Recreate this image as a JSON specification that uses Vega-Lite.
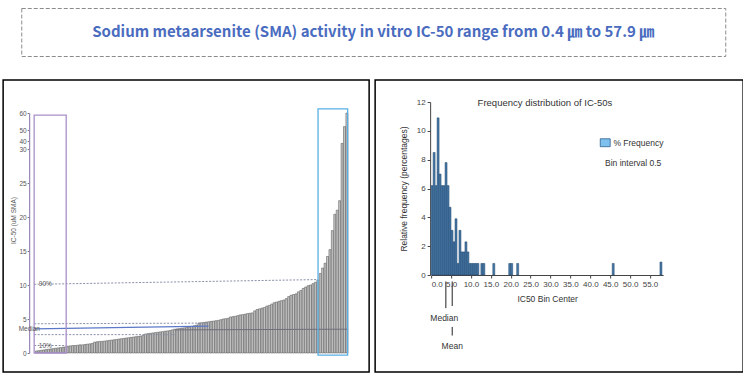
{
  "$schema": "https://vega.github.io/schema/vega-lite/v6.json",
  "background": "white",
  "padding": {"left": 2, "top": 7, "right": 0, "bottom": 0},
  "spacing": 22,
  "center": true,
  "config": {"font": "Liberation Sans", "view": {"stroke": null},
    "style": {
      "lefty": {"labelFontSize": 6.5, "labelColor": "#555555", "labelPadding": 1, "labelOverlap": false, "tickSize": 2, "tickColor": "#777777", "domainColor": "#9a86b8", "domainWidth": 1.2, "titleFontSize": 6.5, "titleFontWeight": "normal", "titleColor": "#555555", "grid": false},
      "rightax": {"labelFontSize": 8, "labelColor": "#444444", "labelPadding": 2, "labelOverlap": false, "tickSize": 3, "tickColor": "#444444", "domainColor": "#444444", "titleFontSize": 8.5, "titleFontWeight": "normal", "titleColor": "#333333", "grid": false}
    }
  },
  "datasets": {
    "bars": [
      {"i":1,"v":0.3},{"i":2,"v":0.35},{"i":3,"v":0.4},{"i":4,"v":0.45},{"i":5,"v":0.5},{"i":6,"v":0.55},{"i":7,"v":0.6},{"i":8,"v":0.65},{"i":9,"v":0.7},{"i":10,"v":0.75},
      {"i":11,"v":0.8},{"i":12,"v":0.85},{"i":13,"v":0.9},{"i":14,"v":1.0},{"i":15,"v":1.05},{"i":16,"v":1.1},{"i":17,"v":1.1},{"i":18,"v":1.15},{"i":19,"v":1.2},{"i":20,"v":1.2},
      {"i":21,"v":1.25},{"i":22,"v":1.3},{"i":23,"v":1.35},{"i":24,"v":1.4},{"i":25,"v":1.6},{"i":26,"v":1.65},{"i":27,"v":1.7},{"i":28,"v":1.7},{"i":29,"v":1.75},{"i":30,"v":1.8},
      {"i":31,"v":1.85},{"i":32,"v":1.9},{"i":33,"v":1.95},{"i":34,"v":2.0},{"i":35,"v":2.05},{"i":36,"v":2.1},{"i":37,"v":2.15},{"i":38,"v":2.2},{"i":39,"v":2.25},{"i":40,"v":2.3},
      {"i":41,"v":2.35},{"i":42,"v":2.4},{"i":43,"v":2.45},{"i":44,"v":2.5},{"i":45,"v":2.6},{"i":46,"v":2.8},{"i":47,"v":2.85},{"i":48,"v":2.9},{"i":49,"v":2.95},{"i":50,"v":3.0},
      {"i":51,"v":3.05},{"i":52,"v":3.1},{"i":53,"v":3.15},{"i":54,"v":3.2},{"i":55,"v":3.25},{"i":56,"v":3.3},{"i":57,"v":3.4},{"i":58,"v":3.5},{"i":59,"v":3.55},{"i":60,"v":3.6},
      {"i":61,"v":3.65},{"i":62,"v":3.7},{"i":63,"v":3.75},{"i":64,"v":3.8},{"i":65,"v":3.9},{"i":66,"v":4.0},{"i":67,"v":4.1},{"i":68,"v":4.4},{"i":69,"v":4.45},{"i":70,"v":4.5},
      {"i":71,"v":4.55},{"i":72,"v":4.6},{"i":73,"v":4.65},{"i":74,"v":4.7},{"i":75,"v":4.75},{"i":76,"v":4.8},{"i":77,"v":4.9},{"i":78,"v":5.0},{"i":79,"v":5.05},{"i":80,"v":5.1},
      {"i":81,"v":5.3},{"i":82,"v":5.35},{"i":83,"v":5.4},{"i":84,"v":5.5},{"i":85,"v":5.6},{"i":86,"v":5.65},{"i":87,"v":5.7},{"i":88,"v":5.8},{"i":89,"v":5.85},{"i":90,"v":5.9},
      {"i":91,"v":6.2},{"i":92,"v":6.4},{"i":93,"v":6.5},{"i":94,"v":6.6},{"i":95,"v":6.7},{"i":96,"v":6.9},{"i":97,"v":7.0},{"i":98,"v":7.2},{"i":99,"v":7.4},{"i":100,"v":7.5},
      {"i":101,"v":7.6},{"i":102,"v":7.7},{"i":103,"v":7.8},{"i":104,"v":8.0},{"i":105,"v":8.3},{"i":106,"v":8.5},{"i":107,"v":8.6},{"i":108,"v":8.7},{"i":109,"v":9.0},{"i":110,"v":9.2},
      {"i":111,"v":9.5},{"i":112,"v":9.7},{"i":113,"v":9.9},{"i":114,"v":10.0},{"i":115,"v":10.2},{"i":116,"v":10.4},{"i":117,"v":10.7},{"i":118,"v":11.7},{"i":119,"v":12.5},{"i":120,"v":13.2},
      {"i":121,"v":14.2},{"i":122,"v":15.2},{"i":123,"v":18.0},{"i":124,"v":20.4},{"i":125,"v":21.0},{"i":126,"v":22.4},{"i":127,"v":37.0},{"i":128,"v":52.0},{"i":129,"v":60.0}
    ],
    "dotlines": [
      {"a":0.1,"b":117.2,"y1":10.1,"y2":10.8},
      {"a":0.1,"b":72,"y1":4.3,"y2":4.4},
      {"a":0.1,"b":58,"y1":2.7,"y2":2.7},
      {"a":0.1,"b":13.3,"y1":1.1,"y2":1.1}
    ],
    "bluelines": [
      {"a":0.1,"b":72,"y1":3.55,"y2":3.95}
    ],
    "greylines": [
      {"a":58,"b":129.5,"y1":3.4,"y2":3.5}
    ],
    "boxes": [
      {"a":0.1,"b":13.3,"lo":0,"hi":58.8,"c":"p"},
      {"a":117.1,"b":129.3,"lo":-0.3,"hi":62.4,"c":"b"}
    ],
    "leftlabels": [
      {"t":"Median","x":-6.3,"y":3.5},
      {"t":"10%","x":2.0,"y":1.1},
      {"t":"90%","x":2.0,"y":10.2}
    ],
    "hist": [
      {"lo":0.0,"hi":0.5,"pct":6.2},{"lo":0.5,"hi":1.0,"pct":8.5},{"lo":1.0,"hi":1.5,"pct":6.2},{"lo":1.5,"hi":2.0,"pct":10.9},
      {"lo":2.0,"hi":2.5,"pct":7.0},{"lo":2.5,"hi":3.0,"pct":6.2},{"lo":3.0,"hi":3.5,"pct":6.2},{"lo":3.5,"hi":4.0,"pct":7.8},
      {"lo":4.0,"hi":4.5,"pct":6.2},{"lo":4.5,"hi":5.0,"pct":4.7},{"lo":5.0,"hi":5.5,"pct":3.1},{"lo":5.5,"hi":6.0,"pct":2.3},
      {"lo":6.0,"hi":6.5,"pct":3.9},{"lo":6.5,"hi":7.0,"pct":0.8},{"lo":7.0,"hi":7.5,"pct":3.1},{"lo":7.5,"hi":8.0,"pct":1.6},
      {"lo":8.0,"hi":8.5,"pct":1.6},{"lo":8.5,"hi":9.0,"pct":2.3},{"lo":9.0,"hi":9.5,"pct":1.6},{"lo":9.5,"hi":10.0,"pct":0.8},
      {"lo":10.0,"hi":10.5,"pct":0.8},{"lo":10.5,"hi":11.0,"pct":0.8},{"lo":11.0,"hi":11.5,"pct":0.8},{"lo":11.5,"hi":12.0,"pct":0.8},
      {"lo":12.5,"hi":13.0,"pct":0.8},{"lo":13.0,"hi":13.5,"pct":0.8},{"lo":15.5,"hi":16.0,"pct":0.8},{"lo":19.5,"hi":20.0,"pct":0.8},
      {"lo":20.0,"hi":20.5,"pct":0.8},{"lo":21.5,"hi":22.0,"pct":0.8},{"lo":45.5,"hi":46.0,"pct":0.8},{"lo":57.5,"hi":58.0,"pct":0.9}
    ],
    "swatch": [{"a":42.5,"b":45.0,"lo":8.9,"hi":9.45}],
    "histtitle": [{"t":"Frequency distribution of IC-50s","x":28.6,"y":11.9}],
    "legendtext": [
      {"t":"% Frequency","x":45.8,"y":9.15},
      {"t":"Bin interval 0.5","x":43.7,"y":7.8}
    ],
    "marks": [
      {"t":"Median","x":3.3,"y":-3.0},
      {"t":"Mean","x":5.3,"y":-4.93}
    ],
    "arrows": [
      {"x":3.7,"y1":-0.45,"y2":-2.3},
      {"x":5.3,"y1":-0.45,"y2":-2.15},
      {"x":5.3,"y1":-3.6,"y2":-4.2}
    ]
  },
  "vconcat": [
    {
      "width": 704,
      "height": 48,
      "view": {"stroke": "#8c8c8c", "strokeDash": [4, 2], "strokeWidth": 1},
      "data": {"values": [{"t": "Sodium metaarsenite (SMA) activity in vitro IC-50 range from 0.4 ㎛ to 57.9 ㎛"}]},
      "mark": {"type": "text", "font": "Noto Sans CJK KR", "fontSize": 15, "fontWeight": "bold", "color": "#4a6cc0", "align": "center", "baseline": "middle"},
      "encoding": {"text": {"field": "t"}}
    },
    {
      "hconcat": [
        {
          "width": 366,
          "height": 292,
          "view": {"stroke": "#000000", "strokeWidth": 1.5},
          "resolve": {"axis": {"x": "independent", "y": "independent"}},
          "layer": [
            {
              "data": {"name": "bars"},
              "mark": {"type": "bar", "width": 2, "fill": "#c6c6c6", "stroke": "#4a4a4a", "strokeWidth": 0.5},
              "encoding": {
                "x": {"field": "i", "type": "quantitative", "scale": {"domain": [0.5, 129.5], "range": [27, 350], "nice": false, "zero": false}, "axis": null},
                "y": {"field": "v", "type": "quantitative",
                  "scale": {"domain": [0, 30, 40, 50, 60], "range": [273, 69, 61, 50, 33], "nice": false, "zero": false},
                  "axis": {"style": "lefty", "values": [0, 5, 10, 15, 20, 25, 30, 40, 50, 60], "offset": -26,
                    "title": "IC-50 (uM SMA)", "titleX": -16, "titleY": 140, "titleAngle": -90, "titleAlign": "center", "titleBaseline": "middle"}
                }
              }
            },
            {
              "data": {"name": "dotlines"},
              "mark": {"type": "rule", "stroke": "#8a8fa8", "strokeDash": [2, 1.5], "strokeWidth": 1},
              "encoding": {
                "x": {"field": "a", "type": "quantitative", "axis": null},
                "x2": {"field": "b"},
                "y": {"field": "y1", "type": "quantitative", "axis": null},
                "y2": {"field": "y2"}
              }
            },
            {
              "data": {"name": "greylines"},
              "mark": {"type": "rule", "stroke": "#6f6f7f", "strokeWidth": 1},
              "encoding": {
                "x": {"field": "a", "type": "quantitative", "axis": null},
                "x2": {"field": "b"},
                "y": {"field": "y1", "type": "quantitative", "axis": null},
                "y2": {"field": "y2"}
              }
            },
            {
              "data": {"name": "bluelines"},
              "mark": {"type": "rule", "stroke": "#5b78c8", "strokeWidth": 1.3},
              "encoding": {
                "x": {"field": "a", "type": "quantitative", "axis": null},
                "x2": {"field": "b"},
                "y": {"field": "y1", "type": "quantitative", "axis": null},
                "y2": {"field": "y2"}
              }
            },
            {
              "data": {"name": "boxes"},
              "mark": {"type": "rect", "fill": null, "fillOpacity": 0, "strokeWidth": 1.3},
              "encoding": {
                "x": {"field": "a", "type": "quantitative", "axis": null},
                "x2": {"field": "b"},
                "y": {"field": "lo", "type": "quantitative", "axis": null},
                "y2": {"field": "hi"},
                "stroke": {"field": "c", "type": "nominal", "scale": {"domain": ["p", "b"], "range": ["#a98fc9", "#5ab0e6"]}, "legend": null}
              }
            },
            {
              "data": {"name": "leftlabels"},
              "mark": {"type": "text", "align": "left", "baseline": "middle", "fontSize": 6.5, "color": "#555555"},
              "encoding": {
                "x": {"field": "x", "type": "quantitative", "axis": null},
                "y": {"field": "y", "type": "quantitative", "axis": null},
                "text": {"field": "t"}
              }
            }
          ]
        },
        {
          "width": 368,
          "height": 292,
          "view": {"stroke": "#000000", "strokeWidth": 1.5},
          "layer": [
            {
              "data": {"name": "hist"},
              "mark": {"type": "bar", "fill": "#4577a6", "stroke": "#22466b", "strokeWidth": 0.5},
              "encoding": {
                "x": {"field": "lo", "type": "quantitative",
                  "scale": {"domain": [0, 58.3], "range": [56, 288], "nice": false, "zero": false},
                  "axis": {"style": "rightax", "values": [0, 5, 10, 15, 20, 25, 30, 35, 40, 45, 50, 55], "format": ".1f", "offset": -97, "title": "IC50 Bin Center", "titlePadding": 6}
                },
                "x2": {"field": "hi"},
                "y": {"field": "pct", "type": "quantitative",
                  "scale": {"domain": [0, 12], "range": [195, 22], "nice": false, "zero": false},
                  "axis": {"style": "rightax", "values": [0, 2, 4, 6, 8, 10, 12], "offset": -55, "title": "Relative frequency (percentages)", "titlePadding": 8}
                },
                "y2": {"datum": 0}
              }
            },
            {
              "data": {"name": "swatch"},
              "mark": {"type": "rect", "fill": "#7ec0ee", "stroke": "#2f5f8f", "strokeWidth": 0.8},
              "encoding": {
                "x": {"field": "a", "type": "quantitative", "axis": {"style": "rightax", "values": [0, 5, 10, 15, 20, 25, 30, 35, 40, 45, 50, 55], "format": ".1f", "offset": -97, "title": "IC50 Bin Center", "titlePadding": 6}},
                "x2": {"field": "b"},
                "y": {"field": "lo", "type": "quantitative", "axis": {"style": "rightax", "values": [0, 2, 4, 6, 8, 10, 12], "offset": -55, "title": "Relative frequency (percentages)", "titlePadding": 8}},
                "y2": {"field": "hi"}
              }
            },
            {
              "data": {"name": "histtitle"},
              "mark": {"type": "text", "align": "center", "baseline": "middle", "fontSize": 9.5, "color": "#333333"},
              "encoding": {
                "x": {"field": "x", "type": "quantitative", "axis": {"style": "rightax", "values": [0, 5, 10, 15, 20, 25, 30, 35, 40, 45, 50, 55], "format": ".1f", "offset": -97, "title": "IC50 Bin Center", "titlePadding": 6}},
                "y": {"field": "y", "type": "quantitative", "axis": {"style": "rightax", "values": [0, 2, 4, 6, 8, 10, 12], "offset": -55, "title": "Relative frequency (percentages)", "titlePadding": 8}},
                "text": {"field": "t"}
              }
            },
            {
              "data": {"name": "legendtext"},
              "mark": {"type": "text", "align": "left", "baseline": "middle", "fontSize": 8.5, "color": "#333333"},
              "encoding": {
                "x": {"field": "x", "type": "quantitative", "axis": {"style": "rightax", "values": [0, 5, 10, 15, 20, 25, 30, 35, 40, 45, 50, 55], "format": ".1f", "offset": -97, "title": "IC50 Bin Center", "titlePadding": 6}},
                "y": {"field": "y", "type": "quantitative", "axis": {"style": "rightax", "values": [0, 2, 4, 6, 8, 10, 12], "offset": -55, "title": "Relative frequency (percentages)", "titlePadding": 8}},
                "text": {"field": "t"}
              }
            },
            {
              "data": {"name": "arrows"},
              "mark": {"type": "rule", "stroke": "#222222", "strokeWidth": 1},
              "encoding": {
                "x": {"field": "x", "type": "quantitative", "axis": {"style": "rightax", "values": [0, 5, 10, 15, 20, 25, 30, 35, 40, 45, 50, 55], "format": ".1f", "offset": -97, "title": "IC50 Bin Center", "titlePadding": 6}},
                "y": {"field": "y1", "type": "quantitative", "axis": {"style": "rightax", "values": [0, 2, 4, 6, 8, 10, 12], "offset": -55, "title": "Relative frequency (percentages)", "titlePadding": 8}},
                "y2": {"field": "y2"}
              }
            },
            {
              "data": {"name": "marks"},
              "mark": {"type": "text", "align": "center", "baseline": "middle", "fontSize": 8.5, "color": "#333333"},
              "encoding": {
                "x": {"field": "x", "type": "quantitative", "axis": {"style": "rightax", "values": [0, 5, 10, 15, 20, 25, 30, 35, 40, 45, 50, 55], "format": ".1f", "offset": -97, "title": "IC50 Bin Center", "titlePadding": 6}},
                "y": {"field": "y", "type": "quantitative", "axis": {"style": "rightax", "values": [0, 2, 4, 6, 8, 10, 12], "offset": -55, "title": "Relative frequency (percentages)", "titlePadding": 8}},
                "text": {"field": "t"}
              }
            }
          ]
        }
      ],
      "spacing": 4
    }
  ]
}
